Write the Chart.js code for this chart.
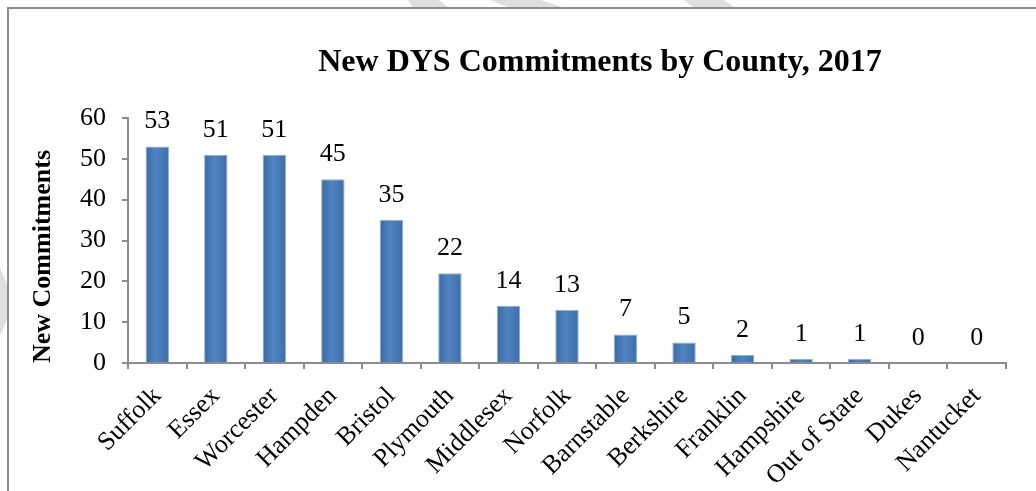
<!DOCTYPE html>
<html>
<head>
<meta charset="utf-8">
<script src="https://cdn.jsdelivr.net/npm/chart.js@4.4.1/dist/chart.umd.min.js"></script>
<style>
    html, body { margin: 0; padding: 0; background: #fff; }
    .mark { position: absolute; background: #dedede; }
    #frame {
        position: absolute; left: 7px; top: 7px; width: 1027px; height: 482px;
        border-left: 2px solid #8c8c8c; border-top: 2px solid #8c8c8c;
    }
    #frame canvas { display: block; }
</style>
</head>
<body>
<!-- faint watermark pieces peeking out round the frame -->
<div class="mark" style="left:405px;top:0;width:50px;height:8px;clip-path:polygon(6% 0,68% 0,88% 100%,16% 100%)"></div>
<div class="mark" style="left:488px;top:0;width:80px;height:8px;clip-path:polygon(2% 0,66% 0,96% 100%,28% 100%)"></div>
<div class="mark" style="left:682px;top:0;width:56px;height:8px;clip-path:polygon(3% 0,75% 0,95% 100%,22% 100%)"></div>
<div class="mark" style="left:0;top:268px;width:9px;height:68px;clip-path:polygon(0 0,100% 30%,100% 70%,0 100%)"></div>
<div id="frame"><canvas id="countyChart" width="1027" height="482"></canvas></div>
<script>
const counties = ['Suffolk', 'Essex', 'Worcester', 'Hampden', 'Bristol', 'Plymouth', 'Middlesex',
    'Norfolk', 'Barnstable', 'Berkshire', 'Franklin', 'Hampshire', 'Out of State', 'Dukes', 'Nantucket'];
const commitments = [53, 51, 51, 45, 35, 22, 14, 13, 7, 5, 2, 1, 1, 0, 0];
const yTicks = [0, 10, 20, 30, 40, 50, 60];

const chartTitle = 'New DYS Commitments by County, 2017';
const serif = "'Liberation Serif', 'Times New Roman', serif";

// shaded bar fill, darker at the edges like the original
const barFill = (c) => {
    const chart = c.chart;
    const xs = chart.scales.x;
    if (!xs || c.dataIndex === undefined) return '#4a7ebb';
    const cx = xs.getPixelForValue(c.dataIndex);
    const half = (xs.width / counties.length) * 0.2;
    if (!isFinite(cx) || !isFinite(half) || half <= 0) return '#4a7ebb';
    const g = chart.ctx.createLinearGradient(cx - half, 0, cx + half, 0);
    g.addColorStop(0, '#3b6aa3');
    g.addColorStop(0.45, '#5084c2');
    g.addColorStop(1, '#3d6ea8');
    return g;
};

const valueLabels = {
    id: 'valueLabels',
    afterDatasetsDraw(chart) {
        const { ctx } = chart;
        const meta = chart.getDatasetMeta(0);
        ctx.save();
        ctx.font = `26px ${serif}`;
        ctx.fillStyle = '#000';
        ctx.textAlign = 'center';
        ctx.textBaseline = 'middle';
        meta.data.forEach((bar, i) => {
            ctx.fillText(String(commitments[i]), bar.x, bar.y - 25);
        });
        ctx.restore();
    }
};

const titlePlugin = {
    id: 'offsetTitle',
    afterDraw(chart) {
        const { ctx } = chart;
        ctx.save();
        ctx.font = `bold 32px ${serif}`;
        ctx.fillStyle = '#000';
        ctx.textAlign = 'center';
        ctx.textBaseline = 'middle';
        ctx.fillText(chartTitle, 591, 54);
        ctx.restore();
    }
};

new Chart(document.getElementById('countyChart'), {
    type: 'bar',
    data: {
        labels: counties,
        datasets: [{
            label: 'New Commitments',
            data: commitments,
            backgroundColor: barFill,
            borderColor: '#8fb0d8',
            borderWidth: { top: 1, left: 1, right: 1, bottom: 0 },
            barPercentage: 0.4,
            categoryPercentage: 1,
        }]
    },
    plugins: [valueLabels, titlePlugin],
    options: {
        responsive: false,
        animation: false,
        layout: { padding: { top: 109, left: 0, right: 30, bottom: 0 } },
        plugins: {
            legend: { display: false },
            tooltip: { enabled: false },
        },
        scales: {
            x: {
                afterFit: (axis) => { axis.height = 128; },
                grid: { display: true, offset: true, drawOnChartArea: false, tickLength: 6, color: '#8c8c8c', lineWidth: 2 },
                border: { display: true, color: '#8c8c8c', width: 2 },
                ticks: { color: '#000', font: { family: serif, size: 26 }, maxRotation: 45, minRotation: 45, padding: 12, autoSkip: false },
            },
            y: {
                min: 0,
                max: 60,
                afterBuildTicks: (axis) => { axis.ticks = yTicks.map(v => ({ value: v })); },
                afterFit: (axis) => { axis.width = 119; },
                grid: { display: true, drawOnChartArea: false, tickLength: 6, color: '#8c8c8c', lineWidth: 2 },
                border: { display: true, color: '#8c8c8c', width: 2 },
                ticks: { color: '#000', font: { family: serif, size: 26 }, padding: 16 },
                title: { display: true, align: 'start', text: 'New Commitments', color: '#000', font: { family: serif, size: 26, weight: 'bold' }, padding: { top: 19, bottom: 0 } },
            }
        }
    }
});
</script>
</body>
</html>
